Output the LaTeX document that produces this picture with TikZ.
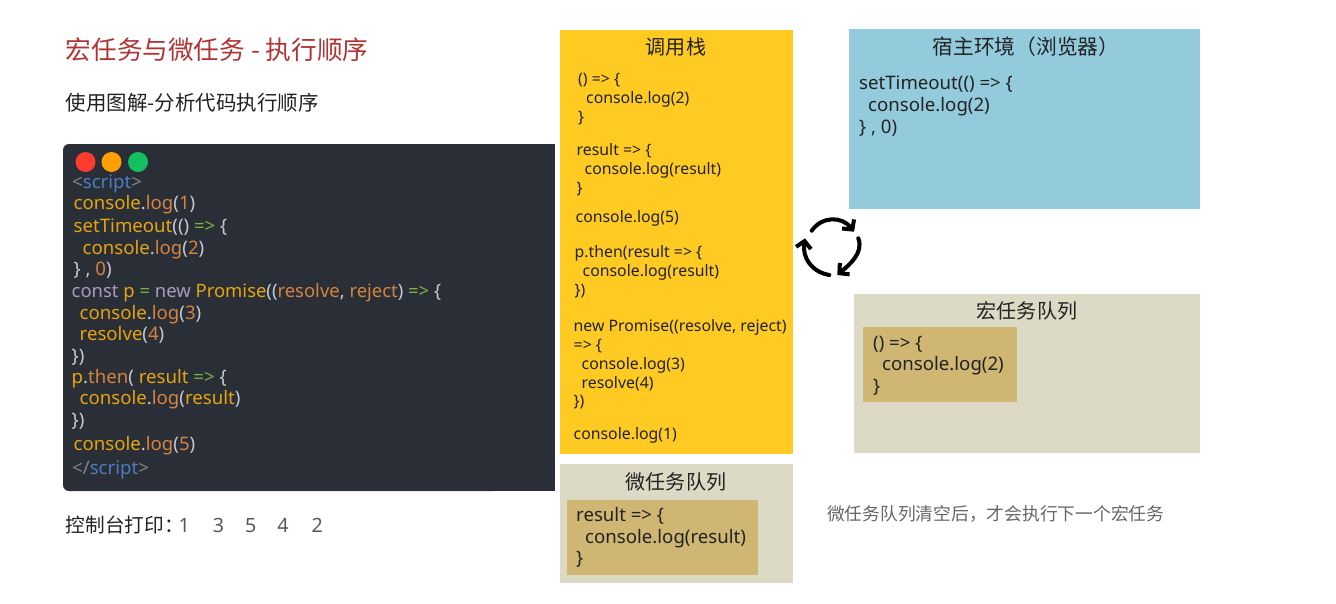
\documentclass[tikz,border=0pt]{standalone}
\usepackage{fontspec}
\setmainfont{Noto Sans}
\newfontfamily\cjk{Noto Sans CJK SC}
\usetikzlibrary{arrows.meta,calc}

\definecolor{codeBg}{HTML}{2A2E37}
\definecolor{kwYellow}{HTML}{E5A50F}
\definecolor{kwOrange}{HTML}{D4843F}
\definecolor{kwPlain}{HTML}{C4CAD4}
\definecolor{kwGreen}{HTML}{7CB342}
\definecolor{kwPurple}{HTML}{A99BBE}
\definecolor{kwBlue}{HTML}{4A7DBE}
\definecolor{kwGray}{HTML}{7F848E}
\definecolor{stackYellow}{HTML}{FFCA22}
\definecolor{hostBlue}{HTML}{93CBDD}
\definecolor{queueBg}{HTML}{DCD9C5}
\definecolor{taskBg}{HTML}{D0B673}
\definecolor{titleRed}{HTML}{B03434}
\definecolor{inkDark}{HTML}{222222}
\definecolor{dotRedC}{HTML}{FF3B30}
\definecolor{dotOrangeC}{HTML}{FF9F00}
\definecolor{dotGreenC}{HTML}{12C060}

\newcommand{\ky}[1]{\textcolor{kwYellow}{#1}}
\newcommand{\ko}[1]{\textcolor{kwOrange}{#1}}
\newcommand{\kp}[1]{\textcolor{kwPlain}{#1}}
\newcommand{\kg}[1]{\textcolor{kwGreen}{#1}}
\newcommand{\kv}[1]{\textcolor{kwPurple}{#1}}
\newcommand{\kb}[1]{\textcolor{kwBlue}{#1}}
\newcommand{\kn}[1]{\textcolor{kwGray}{#1}}

\begin{document}
\begin{tikzpicture}[
    panel/.style={rectangle, anchor=north west, inner sep=0pt},
    code/.style={anchor=base west, inner sep=0pt, font=\fontsize{5.3pt}{6pt}\selectfont},
    stackcode/.style={anchor=north west, inner sep=0pt, align=left, text=inkDark, font=\fontsize{4.5pt}{5.35pt}\selectfont},
    bigcode/.style={anchor=north west, inner sep=0pt, align=left, text=inkDark, font=\fontsize{5.3pt}{6.2pt}\selectfont},
    head/.style={anchor=center, inner sep=0pt, text=inkDark, font=\cjk\fontsize{5.7pt}{7pt}\selectfont},
    dot/.style={circle, inner sep=0pt, minimum size=0.2cm},
    cyclearrow/.style={-{Straight Barb[length=0.7mm,width=1.5mm]}, line width=1.15pt, line cap=round, black},
]
\useasboundingbox (0,0) rectangle (13.36,-6.03);

% ====== Title ======
\node[anchor=west, inner sep=0pt, text=titleRed, font=\cjk\fontsize{7.3pt}{9pt}\selectfont] (title) at (0.65,-0.5) {宏任务与微任务 - 执行顺序};
\node[anchor=west, inner sep=0pt, text=inkDark, font=\cjk\fontsize{5.83pt}{7pt}\selectfont] (subtitle) at (0.65,-1.03) {使用图解-分析代码执行顺序};

% ====== Code window ======
\fill[codeBg, rounded corners=0.06cm] (0.63,-1.44) rectangle (5.0,-4.91);
\fill[codeBg] (4.5,-1.44) rectangle (5.55,-4.91);
\node[dot, fill=dotRedC] (dotRed) at (0.855,-1.62) {};
\node[dot, fill=dotOrangeC] (dotOrange) at (1.115,-1.62) {};
\node[dot, fill=dotGreenC] (dotGreen) at (1.38,-1.62) {};

\node[code] (c1) at (0.715,-1.88) {\kn{<}\kb{script}\kn{>}};
\node[code] (c2) at (0.73,-2.09) {\ky{console}\kp{.}\ko{log}\kp{(}\ko{1}\kp{)}};
\node[code] (c3) at (0.73,-2.32) {\ky{setTimeout}\kp{(()} \kg{=>} \kp{\{}};
\node[code] (c4) at (0.82,-2.54) {\ky{console}\kp{.}\ko{log}\kp{(}\ko{2}\kp{)}};
\node[code] (c5) at (0.73,-2.75) {\kp{\} ,} \ko{0}\kp{)}};
\node[code, font=\fontsize{5.25pt}{6pt}\selectfont] (c6) at (0.71,-2.97) {\kv{const} \ky{p} \kg{=} \kv{new} \ky{Promise}\kp{((}\ko{resolve}\kp{,} \ko{reject}\kp{)} \kg{=>} \kp{\{}};
\node[code] (c7) at (0.79,-3.19) {\ky{console}\kp{.}\ko{log}\kp{(}\ko{3}\kp{)}};
\node[code] (c8) at (0.79,-3.40) {\ky{resolve}\kp{(}\ko{4}\kp{)}};
\node[code] (c9) at (0.71,-3.62) {\kp{\})}};
\node[code] (c10) at (0.71,-3.83) {\ky{p}\kp{.}\ko{then}\kp{(} \ky{result} \kg{=>} \kp{\{}};
\node[code] (c11) at (0.79,-4.04) {\ky{console}\kp{.}\ko{log}\kp{(}\ky{result}\kp{)}};
\node[code] (c12) at (0.71,-4.26) {\kp{\})}};
\node[code] (c13) at (0.73,-4.50) {\ky{console}\kp{.}\ko{log}\kp{(}\ko{5}\kp{)}};
\node[code] (c14) at (0.715,-4.74) {\kn{</}\kb{script}\kn{>}};

% ====== Console output ======
\node[anchor=west, inner sep=0pt, text=inkDark, font=\cjk\fontsize{5.6pt}{7pt}\selectfont] (printLabel) at (0.65,-5.25) {控制台打印：};
\node[anchor=west, inner sep=0pt, text=black!65, font=\fontsize{5.6pt}{7pt}\selectfont] (printOut) at (1.78,-5.25) {1\hspace{2.3mm}3\hspace{2.1mm}5\hspace{2.1mm}4\hspace{2.3mm}2};

% ====== Call stack ======
\node[panel, fill=stackYellow, minimum width=2.33cm, minimum height=4.24cm] (stack) at (5.593,-0.295) {};
\node[head] (stackTitle) at (6.76,-0.47) {调用栈};
\node[stackcode] (s1) at (5.775,-0.725) {() => \{\\\hspace{0.8mm}console.log(2)\\\}};
\node[stackcode] (s2) at (5.76,-1.43) {result => \{\\\hspace{0.8mm}console.log(result)\\\}};
\node[stackcode] (s3) at (5.75,-2.10) {console.log(5)};
\node[stackcode] (s4) at (5.74,-2.45) {p.then(result => \{\\\hspace{0.8mm}console.log(result)\\\})};
\node[stackcode] (s5) at (5.73,-3.19) {new Promise((resolve, reject)\\=> \{\\\hspace{0.8mm}console.log(3)\\\hspace{0.8mm}resolve(4)\\\})};
\node[stackcode] (s6) at (5.73,-4.265) {console.log(1)};

% ====== Micro task queue ======
\node[panel, fill=queueBg, minimum width=2.33cm, minimum height=1.19cm] (micro) at (5.593,-4.635) {};
\node[head] (microTitle) at (6.76,-4.82) {微任务队列};
\node[panel, fill=taskBg, minimum width=1.91cm, minimum height=0.75cm] (microTask) at (5.663,-4.995) {};
\node[bigcode] (microCode) at (5.755,-5.065) {result => \{\\\hspace{0.9mm}console.log(result)\\\}};

% ====== Host ======
\node[panel, fill=hostBlue, minimum width=3.51cm, minimum height=1.8cm] (host) at (8.483,-0.285) {};
\node[head, font=\cjk\fontsize{5.9pt}{7pt}\selectfont] (hostTitle) at (10.26,-0.47) {宿主环境（浏览器）};
\node[bigcode] (hostCode) at (8.585,-0.755) {setTimeout(() => \{\\\hspace{0.9mm}console.log(2)\\\} , 0)};

% ====== Event loop ======
\coordinate (loopTopA) at (8.117,-2.307);
\coordinate (loopTopB) at (8.54,-2.317);
\coordinate (loopRightA) at (8.583,-2.383);
\coordinate (loopRightB) at (8.373,-2.75);
\coordinate (loopLeftA) at (8.293,-2.75);
\coordinate (loopLeftB) at (8.05,-2.383);
\draw[cyclearrow] (loopTopA) .. controls (8.22,-2.16) and (8.42,-2.16) .. (loopTopB);
\draw[cyclearrow] (loopRightA) .. controls (8.64,-2.53) and (8.49,-2.65) .. (loopRightB);
\draw[cyclearrow] (loopLeftA) .. controls (8.12,-2.72) and (8.02,-2.58) .. (loopLeftB);

% ====== Macro task queue ======
\node[panel, fill=queueBg, minimum width=3.46cm, minimum height=1.59cm] (macro) at (8.533,-2.935) {};
\node[head] (macroTitle) at (10.27,-3.11) {宏任务队列};
\node[panel, fill=taskBg, minimum width=1.54cm, minimum height=0.75cm] (macroTask) at (8.623,-3.265) {};
\node[bigcode] (macroCode) at (8.725,-3.35) {() => \{\\\hspace{0.9mm}console.log(2)\\\}};

% ====== Note ======
\node[anchor=west, inner sep=0pt, text=black!60, font=\cjk\fontsize{5.05pt}{6pt}\selectfont] (note) at (8.265,-5.14) {微任务队列清空后，才会执行下一个宏任务};

\end{tikzpicture}
\end{document}
